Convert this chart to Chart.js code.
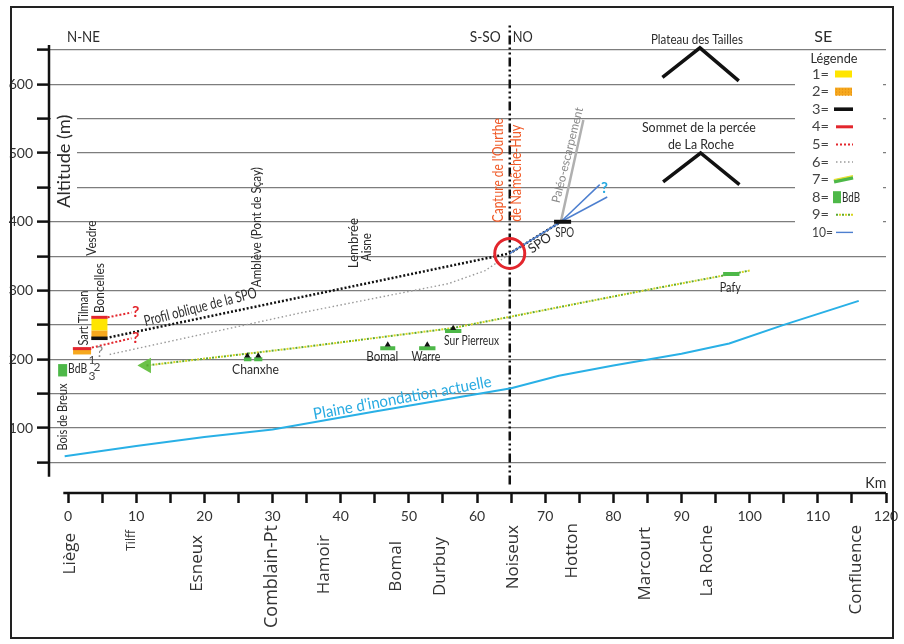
<!DOCTYPE html>
<html>
<head>
<meta charset="utf-8">
<script src="https://cdn.jsdelivr.net/npm/chart.js@4.4.0/dist/chart.umd.min.js"></script>
<style>
  html, body { margin: 0; padding: 0; background: #fff; }
</style>
</head>
<body>
<canvas id="profil" width="904" height="644"></canvas>
<script>
// axes
const kmTicks = [0, 5, 10, 15, 20, 25, 30, 35, 40, 45, 50, 55, 60, 65, 70, 75, 80, 85, 90, 95, 100, 105, 110, 115, 120];
const altTicks = [50, 100, 150, 200, 250, 300, 350, 400, 450, 500, 550, 600, 650];

// localités sous l'axe
const lieux = ["Liège", "Tilff", "Esneux", "Comblain-Pt", "Hamoir", "Bomal", "Durbuy", "Noiseux", "Hotton", "Marcourt", "La Roche", "Confluence"];
const lieuxKm = [0.3, 9.3, 19.0, 29.9, 37.5, 48.2, 54.6, 65.3, 74.0, 84.7, 93.7, 115.6];

// plaine d'inondation actuelle
const plaineKm = [-0.5, 10, 20, 30, 45, 65, 72, 80, 90, 97, 105, 116];
const plaineAlt = [59, 74, 87, 98, 124, 158, 176, 191, 208, 223, 250, 285];

// profil oblique de la SPO (3)
const spoKm = [6.1, 64.8, 72.3];
const spoAlt = [232, 354, 400];

// (6) pointillé gris
const griseKm = [6.1, 33.9, 55.8, 61.2, 64.2];
const griseAlt = [207, 267, 310, 329, 349];

// (9) nappe des terrasses
const nappeKm = [11.5, 33.9, 56.2, 85, 100];
const nappeAlt = [191, 217, 245, 301, 329];

// (7) terrasses
const terrasseDebut = [25.8, 27.3, 45.8, 51.5, 55.3, 96.1];
const terrasseFin = [26.9, 28.5, 48.0, 53.9, 57.7, 98.5];
const terrasseAlt = [200, 200, 216, 216, 241, 324];
const repereKm = [26.3, 27.9, 46.9, 52.7, 56.5];
const repereAlt = [205, 205, 221, 221, 245];

// dépôts Sart Tilman / Boncelles
const sartKm = 2.05, boncKm = 4.6;
const sartOrange = [207, 214.5];
const boncJaune = [242, 259.5];
const boncOrange = [232, 242];
const rougeDebut = [0.7, 3.4];
const rougeFin = [3.4, 5.8];
const rougeAlt = [215.5, 261];
const noirKm = [3.4, 5.8];
const noirAlt = [230.5, 230.5];
const bdbKm = [-0.8, -0.8];
const bdbAlt = [175, 193];

// (5) pointillés rouges
const rougeHautKm = [5.8, 9.3], rougeHautAlt = [261, 268];
const rougeBasKm = [3.5, 9.3], rougeBasAlt = [217, 230.5];

// SPO, paléo-escarpement, (10)
const barreSpoKm = [71.3, 73.8], barreSpoAlt = [400, 400];
const bleuKm = [64.8, 72.3], bleuAlt = [354, 400];
const bleu1Km = [72.3, 78], bleu1Alt = [400, 454];
const bleu2Km = [72.3, 79.1], bleu2Alt = [400, 436];
const paleoKm = [72.3, 75.6], paleoAlt = [400, 548];

// sommets
const taillesKm = [87.2, 92.7, 98.4], taillesAlt = [610, 653, 605];
const rocheKm = [87.3, 92.8, 98.5], rocheAlt = [458, 500, 454];

// capture de Noiseux
const noiseuxKm = [64.8, 64.8], noiseuxAlt = [18, 686];
const captureKm = 64.8, captureAlt = 354;

const legendeCles = ["1=", "2=", "3=", "4=", "5=", "6=", "7=", "8=", "9=", "10="];

const ink = "#2b2b2b";
const rouge = "#e3262d";
const cyan = "#27aae1";
const vert = "#4db848";

const pts = (xs, ys) => xs.map((v, i) => ({ x: v, y: ys[i] }));

function ligne(xs, ys, color, width, dash, extra) {
  return Object.assign({
    data: pts(xs, ys),
    showLine: true,
    borderColor: color,
    borderWidth: width,
    borderDash: dash || [],
    pointRadius: 0,
    pointHoverRadius: 0,
    tension: 0,
    fill: false
  }, extra || {});
}

// segments des terrasses separes par des trous
const terrassePts = [];
terrasseDebut.forEach((d, i) => {
  terrassePts.push({ x: d, y: terrasseAlt[i] }, { x: terrasseFin[i], y: terrasseAlt[i] }, { x: terrasseFin[i], y: null });
});

const datasets = [
  ligne([captureKm], [captureAlt], rouge, 0, [], { showLine: false, pointRadius: 15, pointBorderWidth: 3, pointBorderColor: rouge, pointBackgroundColor: "rgba(0,0,0,0)" }),
  ligne(repereKm, repereAlt, "#111", 0, [], { showLine: false, pointRadius: 3.5, pointStyle: "triangle", pointBackgroundColor: "#111", pointBorderColor: "#111" }),
  ligne(barreSpoKm, barreSpoAlt, "#111", 4),
  ligne(bleuKm, bleuAlt, "#4d7fcf", 1.5),
  ligne(bleu1Km, bleu1Alt, "#4d7fcf", 1.5),
  ligne(bleu2Km, bleu2Alt, "#4d7fcf", 1.5),
  ligne(spoKm, spoAlt, "#111", 2.5, [2, 2]),
  ligne(griseKm, griseAlt, "#9a9a9a", 1.4, [1.5, 2.5]),
  ligne(paleoKm, paleoAlt, "#b0b0b0", 2.5),
  ligne(rougeHautKm, rougeHautAlt, rouge, 2, [2, 2]),
  ligne(rougeBasKm, rougeBasAlt, rouge, 2, [2, 2]),
  ligne(rougeDebut.slice(0, 1).concat(rougeFin.slice(0, 1)), [rougeAlt[0], rougeAlt[0]], rouge, 3),
  ligne(rougeDebut.slice(1).concat(rougeFin.slice(1)), [rougeAlt[1], rougeAlt[1]], rouge, 3),
  ligne(noirKm, noirAlt, "#111", 3.5),
  ligne([boncKm, boncKm], boncJaune, "#ffe500", 16),
  ligne([boncKm, boncKm], boncOrange, "#f6a81e", 16),
  ligne([sartKm, sartKm], sartOrange, "#f6a81e", 18),
  ligne(bdbKm, bdbAlt, vert, 9),
  { data: terrassePts, showLine: true, borderColor: vert, borderWidth: 4, pointRadius: 0, spanGaps: false },
  ligne(nappeKm, nappeAlt, "#5aa832", 2, [2, 4]),
  ligne(nappeKm, nappeAlt, "#d6d51e", 2, [2, 4], { borderDashOffset: 3, pointRadius: [7, 0, 0, 0, 0], pointStyle: "triangle", pointRotation: 270, pointBackgroundColor: "#6cc24a", pointBorderColor: "#6cc24a" }),
  ligne(plaineKm, plaineAlt, "#29b0e6", 2),
  ligne(taillesKm, taillesAlt, "#111", 3.5),
  ligne(rocheKm, rocheAlt, "#111", 3.5),
  ligne(noiseuxKm, noiseuxAlt, "#111", 2.5, [9, 3, 2, 3, 2, 3], { clip: false })
];

function txt(ctx, s, x, y, o) {
  ctx.save();
  ctx.font = o.font || "14px Lato";
  const sx = o.w ? o.w / ctx.measureText(s).width : 1;
  ctx.translate(x, y);
  if (o.rot) ctx.rotate(o.rot * Math.PI / 180);
  ctx.scale(sx, 1);
  ctx.fillStyle = o.color || ink;
  ctx.textAlign = o.align || "center";
  ctx.textBaseline = "middle";
  ctx.fillText(s, 0, 0);
  ctx.restore();
}

// [texte, km, alt, police, couleur, angle, largeur]
const notes = [
  ["N-NE", 2.26, 668, "15px Lato", ink, 0, 33],
  ["S-SO", 61.2, 668, "15px Lato", ink, 0, 31],
  ["NO", 66.7, 668, "15px Lato", ink, 0, 20],
  ["SE", 110.8, 668, "15px Lato", ink, 0, 18],
  ["Plateau des Tailles", 92.26, 665, "13px Lato", ink, 0, 92],
  ["Sommet de la percée", 92.55, 537.5, "14px Lato", ink, 0, 114],
  ["de La Roche", 92.85, 512.8, "14px Lato", ink, 0, 66],
  ["Vesdre", 3.5, 376.2, "13px Lato", ink, -90, 35],
  ["Boncelles", 4.67, 303.5, "14px Lato", ink, -90, 50],
  ["Sart Tilman", 2.19, 259.9, "14px Lato", ink, -90, 55],
  ["Amblève (Pont de Sçay)", 27.74, 392.2, "13px Lato", ink, -90, 120],
  ["Lembrée", 41.9, 368.9, "14px Lato", ink, -90, 50],
  ["Aisne", 43.8, 363.1, "13px Lato", ink, -90, 28],
  ["Capture de l'Ourthe", 63.07, 475, "15px Lato", "#f05a28", -90, 104],
  ["de Namêche-Huy", 65.69, 470.6, "15px Lato", "#f05a28", -90, 97],
  ["Paléo-escarpement", 73.28, 497, "12px Lato", "#8a8a8a", -76, 98],
  ["SPO", 72.85, 383.4, "13px Lato", ink, 0, 19],
  ["SPO", 69.2, 368.9, "13px Lato", ink, -35, 25],
  ["?", 78.7, 448.8, "bold 15px Lato", cyan, 0, 0],
  ["Profil oblique de la SPO", 19.42, 276, "15px Lato", ink, -14.5, 116],
  ["?", 9.93, 268.6, "bold 16px Lato", rouge, 0, 0],
  ["?", 9.93, 230.8, "bold 16px Lato", rouge, 0, 0],
  ["?", 4.67, 210.5, "15px Lato", "#8a8a8a", 0, 0],
  ["1", 3.5, 198.8, "12px Lato", "#444", 0, 0],
  ["2", 4.23, 188.7, "12px Lato", "#444", 0, 0],
  ["3", 3.5, 175.6, "12px Lato", "#444", 0, 0],
  ["BdB", 1.39, 187.2, "14px Lato", ink, 0, 19],
  ["Bois de Breux", -0.73, 116, "13px Lato", ink, -90, 67],
  ["Chanxhe", 27.5, 185.8, "14px Lato", ink, 0, 47],
  ["Bomal", 46.1, 204.7, "14px Lato", ink, 0, 32],
  ["Warre", 52.5, 204.7, "14px Lato", ink, 0, 29],
  ["Sur Pierreux", 59.2, 227.9, "14px Lato", ink, 0, 55],
  ["Pafy", 97.15, 305, "14px Lato", ink, 0, 21],
  ["Plaine d'inondation actuelle", 49.05, 143.6, "16px Lato", cyan, -10.5, 181],
  ["Km", 118.5, 20.1, "15px Lato", ink, 0, 21]
];

// mise en page des localités (décalage sous l'axe, taille)
const lieuxHaut = [40, 37, 42, 32, 42, 48, 44, 32, 30, 34, 32, 32];
const lieuxTaille = [17, 12, 17, 18, 17, 17, 17, 17, 17, 17, 17, 17];

function drawLegend(ctx, a) {
  const L = a.right - 51, T = a.top + 31, step = 17.6;
  ctx.save();
  ctx.fillStyle = "#fff";
  ctx.fillRect(a.right - 91, a.top + 12, 88, 195);
  txt(ctx, "Légende", L - 1, a.top + 15, { font: "14px Lato", w: 47 });
  legendeCles.forEach((k, i) => {
    const yy = T + i * step;
    txt(ctx, k, L - 23, yy, { font: "14px Lato", align: "left", w: k.length > 2 ? 21 : 17, color: "#444" });
    ctx.setLineDash([]);
    if (i === 0) { ctx.fillStyle = "#ffe500"; ctx.fillRect(L, yy - 3.5, 17, 7); }
    if (i === 1) {
      ctx.fillStyle = "#f6a81e"; ctx.fillRect(L, yy - 4, 17, 8);
      ctx.fillStyle = "#e08a10";
      for (let dx = 1; dx < 17; dx += 3) for (let dy = -3; dy < 4; dy += 3) ctx.fillRect(L + dx, yy + dy, 1, 1);
    }
    if (i === 2) { ctx.fillStyle = "#111"; ctx.fillRect(L - 1, yy - 1.8, 19, 3.6); }
    if (i === 3) { ctx.fillStyle = rouge; ctx.fillRect(L + 1, yy - 1.5, 17, 3); }
    if (i === 4 || i === 5 || i === 9) {
      ctx.beginPath();
      ctx.strokeStyle = i === 4 ? rouge : i === 5 ? "#9a9a9a" : "#4d7fcf";
      ctx.lineWidth = i === 4 ? 2 : 1.4;
      ctx.setLineDash(i === 9 ? [] : i === 4 ? [2, 2] : [1.5, 2.5]);
      ctx.moveTo(L + 1, yy); ctx.lineTo(L + 18, yy); ctx.stroke();
    }
    if (i === 6) {
      ctx.beginPath(); ctx.strokeStyle = vert; ctx.lineWidth = 4;
      ctx.moveTo(L - 1, yy + 2); ctx.lineTo(L + 18, yy - 2); ctx.stroke();
      ctx.beginPath(); ctx.strokeStyle = "#e8e030"; ctx.lineWidth = 1.2;
      ctx.moveTo(L - 1, yy); ctx.lineTo(L + 18, yy - 4); ctx.stroke();
    }
    if (i === 7) {
      ctx.fillStyle = vert; ctx.fillRect(L - 2, yy - 6, 8, 12);
      txt(ctx, "BdB", L + 7, yy, { font: "14px Lato", align: "left", w: 18 });
    }
    if (i === 8) {
      ctx.lineWidth = 2;
      ctx.beginPath(); ctx.strokeStyle = "#5aa832"; ctx.setLineDash([2, 4]);
      ctx.moveTo(L + 1, yy); ctx.lineTo(L + 19, yy); ctx.stroke();
      ctx.beginPath(); ctx.strokeStyle = "#d6d51e"; ctx.lineDashOffset = 3;
      ctx.moveTo(L + 1, yy); ctx.lineTo(L + 19, yy); ctx.stroke();
      ctx.lineDashOffset = 0;
    }
  });
  ctx.restore();
}

const decor = {
  id: "decor",
  afterDraw(chart) {
    const { ctx, chartArea: a } = chart;
    const xs = chart.scales.x, ys = chart.scales.y;
    const px = v => xs.getPixelForValue(v);
    const py = v => ys.getPixelForValue(v);

    // axes
    ctx.save();
    ctx.strokeStyle = "#111";
    ctx.lineWidth = 2.5;
    ctx.beginPath(); ctx.moveTo(a.left, py(657)); ctx.lineTo(a.left, py(29)); ctx.stroke();
    ctx.beginPath(); ctx.moveTo(px(-0.7), a.bottom); ctx.lineTo(px(120), a.bottom); ctx.stroke();
    ctx.restore();

    // titre de l'axe
    ctx.fillStyle = "#fff";
    ctx.fillRect(a.left + 2, py(560), 26, py(450) - py(560) + 8);
    txt(ctx, "Altitude (m)", px(-0.58), py(488), { font: "17px Lato", rot: -90, w: 93 });

    notes.forEach(n => {
      txt(ctx, n[0], px(n[1]), py(n[2]), { font: n[3], color: n[4], rot: n[5], w: n[6] });
    });

    lieux.forEach((n, i) => {
      txt(ctx, n, px(lieuxKm[i]), a.bottom + lieuxHaut[i], {
        font: lieuxTaille[i] + "px 'Open Sans'", rot: -90, align: "right", color: "#333"
      });
    });

    drawLegend(ctx, a);

    // cadre
    ctx.save();
    ctx.strokeStyle = "#222";
    ctx.lineWidth = 2;
    ctx.strokeRect(11, 7, 882, 631);
    ctx.restore();
  }
};

new Chart(document.getElementById("profil"), {
  type: "scatter",
  data: { datasets: datasets },
  options: {
    responsive: false,
    animation: false,
    devicePixelRatio: 1,
    layout: { padding: { left: 0, right: 14, top: 43, bottom: 0 } },
    plugins: { legend: { display: false }, tooltip: { enabled: false } },
    scales: {
      x: {
        type: "linear",
        min: -2.8,
        max: 120,
        afterBuildTicks: s => { s.ticks = kmTicks.map(v => ({ value: v })); },
        afterFit: s => { s.height = 151; },
        border: { display: false },
        grid: { drawOnChartArea: false, tickLength: 10, tickColor: "#111", tickWidth: 2.5 },
        ticks: {
          autoSkip: false, maxRotation: 0, minRotation: 0, padding: 5,
          color: "#333", font: { family: "Lato", size: 14 },
          callback: v => (v % 10 === 0 ? String(v) : "")
        }
      },
      y: {
        min: 5.5,
        max: 660,
        afterBuildTicks: s => { s.ticks = altTicks.map(v => ({ value: v })); },
        afterFit: s => { s.width = 49; },
        border: { display: false },
        grid: { color: "#7d7d7d", lineWidth: 1.2, tickLength: 12, tickColor: "#111", tickWidth: 2.5 },
        ticks: {
          padding: 4, color: "#333", font: { family: "Lato", size: 14 },
          callback: v => (v % 100 === 0 ? String(v) : "")
        }
      }
    }
  },
  plugins: [decor]
});
</script>
</body>
</html>
